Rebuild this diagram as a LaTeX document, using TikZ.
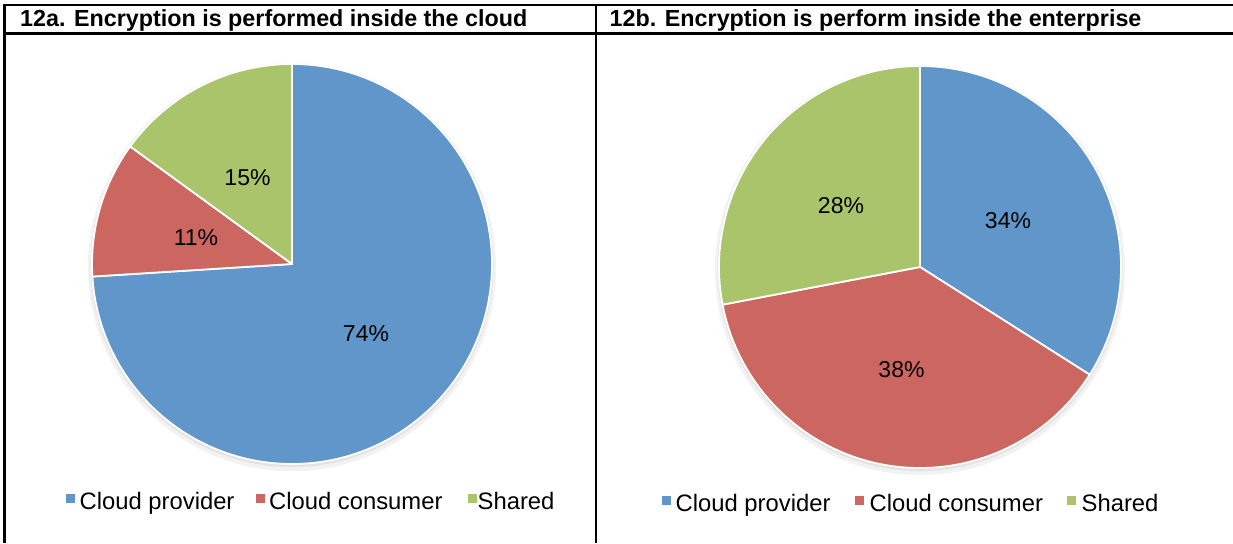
\documentclass[tikz,border=0pt]{standalone}
\usepackage{fontspec}
\setmainfont{Liberation Sans}
\definecolor{cblue}{RGB}{96,150,202}
\definecolor{cred}{RGB}{204,102,96}
\definecolor{cgreen}{RGB}{170,196,107}
\begin{document}
\begin{tikzpicture}[x=1pt,y=1pt,
  rule/.style={line width=2.6pt, black},
  titletext/.style={anchor=base west, inner sep=0pt, font=\fontsize{23.3}{27}\bfseries\selectfont},
  pct/.style={inner sep=0pt, font=\fontsize{23}{27}\selectfont},
  legtext/.style={anchor=base west, inner sep=0pt, font=\fontsize{23.8}{27}\selectfont},
  sq/.style={minimum size=9pt, inner sep=0pt, draw=none},
  slice/.style={draw=white, line width=1.8pt, line join=round},
  shadowa/.style={fill=black!5},
  shadowb/.style={fill=black!11}]
\useasboundingbox (0,0) rectangle (1233,543);
\fill[white] (0,0) rectangle (1233,543);

% table rules
\coordinate (tl) at (3.3,538);
\coordinate (tr) at (1233,538);
\coordinate (hl) at (3.3,509.7);
\coordinate (hr) at (1233,509.7);
\coordinate (lt) at (4.6,539.3);
\coordinate (lb) at (4.6,0);
\coordinate (mt) at (596,539.3);
\coordinate (mb) at (596,0);
\draw[rule] (tl) -- (tr);
\draw[rule] (hl) -- (hr);
\draw[rule] (lt) -- (lb);
\draw[rule] (mt) -- (mb);

% titles
\node[titletext] (t1) at (20,516) {12a. Encryption is performed inside the cloud};
\node[titletext] (t2) at (609.5,516) {12b. Encryption is perform inside the enterprise};

% pie 1
\coordinate (p1c) at (292,279);
\fill[shadowa] (292,276) circle (204);
\fill[shadowb] (292,277.5) circle (201.5);
\path[fill=cblue,slice] (p1c) -- ++(90:200) arc[start angle=90,end angle=-176.4,radius=200] -- cycle;
\path[fill=cred,slice] (p1c) -- ++(-176.4:200) arc[start angle=-176.4,end angle=-216,radius=200] -- cycle;
\path[fill=cgreen,slice] (p1c) -- ++(-216:200) arc[start angle=-216,end angle=-270,radius=200] -- cycle;
\node[pct] (a74) at (366,209) {74\%};
\node[pct] (a11) at (196,305.5) {11\%};
\node[pct] (a15) at (247.5,365.5) {15\%};

% pie 2
\coordinate (p2c) at (920,276);
\fill[shadowa] (920,273) circle (205);
\fill[shadowb] (920,274.5) circle (202.5);
\path[fill=cblue,slice] (p2c) -- ++(90:201) arc[start angle=90,end angle=-32.4,radius=201] -- cycle;
\path[fill=cred,slice] (p2c) -- ++(-32.4:201) arc[start angle=-32.4,end angle=-169.2,radius=201] -- cycle;
\path[fill=cgreen,slice] (p2c) -- ++(-169.2:201) arc[start angle=-169.2,end angle=-270,radius=201] -- cycle;
\node[pct] (b34) at (1008,322) {34\%};
\node[pct] (b38) at (901.5,173) {38\%};
\node[pct] (b28) at (841,337.5) {28\%};

% legend 1
\node[sq,fill=cblue] (l1a) at (70,44.3) {};
\node[legtext] (l1at) at (79.5,33.5) {Cloud provider};
\node[sq,fill=cred] (l1b) at (260.5,44.3) {};
\node[legtext] (l1bt) at (269,33.5) {Cloud consumer};
\node[sq,fill=cgreen] (l1c) at (472,44.3) {};
\node[legtext] (l1ct) at (477.5,33.5) {Shared};

% legend 2
\node[sq,fill=cblue] (l2a) at (666,42.5) {};
\node[legtext] (l2at) at (675.5,31.5) {Cloud provider};
\node[sq,fill=cred] (l2b) at (859,42.5) {};
\node[legtext] (l2bt) at (869.5,31.5) {Cloud consumer};
\node[sq,fill=cgreen] (l2c) at (1071,42.5) {};
\node[legtext] (l2ct) at (1081.5,31.5) {Shared};
\end{tikzpicture}
\end{document}
